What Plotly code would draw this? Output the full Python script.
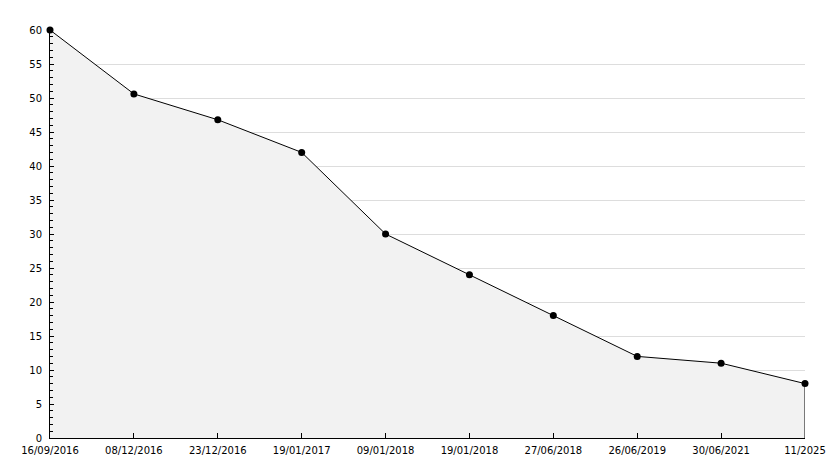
import plotly.graph_objects as go

dates = ["16/09/2016", "08/12/2016", "23/12/2016", "19/01/2017", "09/01/2018",
         "19/01/2018", "27/06/2018", "26/06/2019", "30/06/2021", "11/2025"]
values = [60, 50.6, 46.8, 42, 30, 24, 18, 12, 11, 8]

fig = go.Figure()
fig.add_trace(go.Scatter(
    x=dates, y=values, mode="lines+markers",
    fill="tozeroy", fillcolor="#f2f2f2",
    line=dict(color="black", width=1),
    marker=dict(color="black", size=7, symbol="circle"),
    cliponaxis=False, showlegend=False,
))
# closing edge of the area at the last point
fig.add_trace(go.Scatter(
    x=[dates[-1], dates[-1]], y=[0, values[-1]], mode="lines",
    line=dict(color="black", width=1), showlegend=False, hoverinfo="skip",
))

fig.update_layout(
    width=834, height=468,
    margin=dict(l=50, r=29, t=30, b=30),
    paper_bgcolor="white", plot_bgcolor="white",
    font=dict(family="DejaVu Sans", size=10, color="black"),
)
fig.update_xaxes(
    type="category", range=[0, len(dates) - 1], automargin=False,
    showgrid=False, zeroline=False,
    showline=True, linecolor="black", linewidth=1,
    ticks="inside", ticklen=5, tickcolor="black", ticklabelstandoff=3,
    tickfont=dict(size=10),
)
fig.update_yaxes(
    range=[0, 60], dtick=5, tick0=0, automargin=False,
    showgrid=True, gridcolor="#dddddd", gridwidth=1,
    zeroline=False,
    showline=True, linecolor="black", linewidth=1,
    ticks="inside", ticklen=4, tickcolor="black", ticklabelstandoff=5,
    minor=dict(dtick=1, ticks="inside", ticklen=3, tickcolor="black", showgrid=False),
    tickfont=dict(size=10),
)

fig.write_html("out.html", config={"displayModeBar": False},
               post_script="document.body.style.margin='0';")
